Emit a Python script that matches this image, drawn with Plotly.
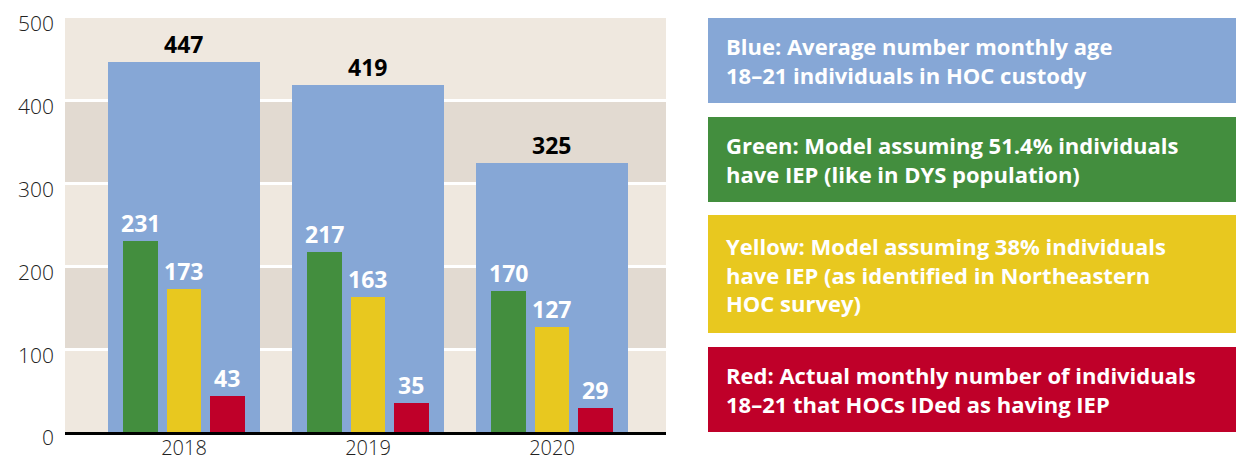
import plotly.graph_objects as go

# ---------------- data ----------------
years = ["2018", "2019", "2020"]
blue_vals = [447, 419, 325]
green_vals = [231, 217, 170]
yellow_vals = [173, 163, 127]
red_vals = [43, 35, 29]
y_ticks = [0, 100, 200, 300, 400, 500]

legend_texts = [
    "Blue: Average number monthly age<br>18–21 individuals in HOC custody",
    "Green: Model assuming 51.4% individuals<br>have IEP (like in DYS population)",
    "Yellow: Model assuming 38% individuals<br>have IEP (as identified in Northeastern<br>HOC survey)",
    "Red: Actual monthly number of individuals<br>18–21 that HOCs IDed as having IEP",
]

# ---------------- style ----------------
OFF = 8  # page body margin
W, H = 1244 - OFF, 463 - OFF
L, R, T, B = 65 - OFF, 666 - OFF, 18 - OFF, 432 - OFF
BLUE, GREEN, YELLOW, RED = "#86a7d6", "#438e3e", "#e8c81f", "#bf0029"
BAND_LIGHT, BAND_DARK = "#efe8df", "#e2dad1"
FONT = "Open Sans"

xpos = list(range(len(years)))
series = [
    (blue_vals, BLUE, 0.826, -0.413, "black"),
    (green_vals, GREEN, 0.19, -0.331, "white"),
    (yellow_vals, YELLOW, 0.19, -0.095, "white"),
    (red_vals, RED, 0.19, 0.141, "white"),
]

fig = go.Figure()
annotations = []
for vals, color, w, off, tcol in series:
    fig.add_trace(go.Bar(x=xpos, y=vals, width=w, offset=off,
                         marker=dict(color=color, line=dict(width=0)),
                         hoverinfo="skip", showlegend=False))
    for xi, v in zip(xpos, vals):
        annotations.append(dict(x=xi + off + w / 2, y=v, xref="x", yref="y",
                                text=str(v), showarrow=False, yanchor="middle",
                                yshift=18,
                                font=dict(family=FONT, size=23, color=tcol, weight="bold")))

shapes = []
for i in range(5):
    shapes.append(dict(type="rect", xref="paper", yref="y", x0=0, x1=1,
                       y0=i * 100, y1=(i + 1) * 100, layer="below", line=dict(width=0),
                       fillcolor=BAND_LIGHT if i % 2 == 0 else BAND_DARK))

def px_x(p):
    return (p - OFF - L) / (R - L)

def px_y(p):
    return (B - (p - OFF)) / (B - T)

boxes = [(18, 103, BLUE), (117, 202, GREEN), (215, 333, YELLOW), (347, 432, RED)]
for (y0, y1, c), txt in zip(boxes, legend_texts):
    shapes.append(dict(type="rect", xref="paper", yref="paper",
                       x0=px_x(708), x1=px_x(1260), y0=px_y(y1), y1=px_y(y0),
                       fillcolor=c, line=dict(width=0), layer="above"))
    annotations.append(dict(xref="paper", yref="paper", x=px_x(724), y=px_y((y0 + y1) / 2),
                            xanchor="left", yanchor="middle", align="left", showarrow=False,
                            text=txt,
                            font=dict(family=FONT, size=22, color="white", weight="bold")))

fig.update_layout(
    width=W, height=H,
    margin=dict(l=L, r=W - R, t=T, b=H - B, pad=0, autoexpand=False),
    paper_bgcolor="white", plot_bgcolor=BAND_LIGHT,
    barmode="overlay", bargap=0,
    shapes=shapes, annotations=annotations,
    xaxis=dict(range=[-0.6467, 2.6196], tickvals=xpos, ticktext=years,
               showgrid=False, zeroline=False, showline=True, linecolor="black",
               linewidth=3, ticks="", ticklabelstandoff=-4, automargin=False,
               ticklabeloverflow="allow",
               tickfont=dict(family=FONT, size=20, color="#222", weight=300)),
    yaxis=dict(range=[0, 500], tickvals=y_ticks, showgrid=True, gridcolor="white",
               gridwidth=3, zeroline=False, showline=False, ticks="",
               ticklabelstandoff=10, ticklabelshift=6, automargin=False,
               ticklabeloverflow="allow",
               tickfont=dict(family=FONT, size=21, color="#222", weight=300)),
)

fig.write_html("out.html")
